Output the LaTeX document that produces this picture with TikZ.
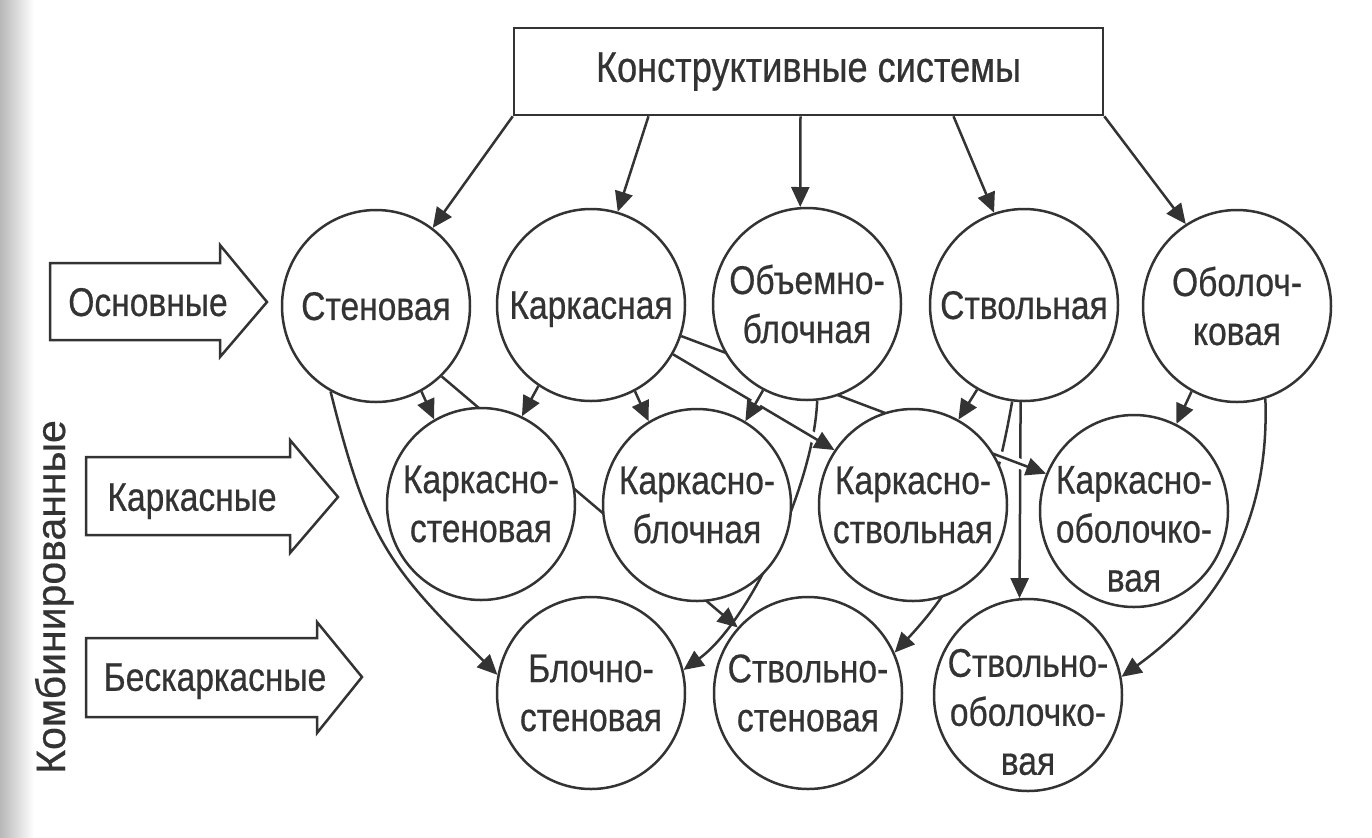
\documentclass[tikz,border=0pt]{standalone}
\usepackage{fontspec}
\setmainfont{Liberation Sans}[FakeStretch=0.84,FakeBold=0.5]
\newfontfamily\widefont{Liberation Sans}[FakeBold=0.5]
\usetikzlibrary{shapes.geometric,arrows.meta,calc,backgrounds}
\definecolor{ink}{HTML}{333333}
\begin{document}
\begin{tikzpicture}[x=0.5pt,y=-0.5pt,
  every node/.style={text=ink, font=\fontsize{20pt}{24.5pt}\selectfont},
  sys/.style={ellipse, draw=ink, line width=1.25pt, fill=white,
    minimum width=94pt, minimum height=96pt, inner sep=0pt},
  txt/.style={align=center, inner sep=0pt},
  con/.style={draw=ink, line width=1.25pt, -{Triangle[length=10pt,width=9pt]}},
  halo/.style={preaction={draw=white, line width=5pt, -}},
  blk/.style={draw=ink, line width=1.25pt, fill=white, line join=miter},
  lbl/.style={text depth=0pt, inner sep=0pt}]
\useasboundingbox (0,0) rectangle (1372,837);

% top box
\node[draw=ink, line width=1.25pt, fill=white, minimum width=294.5pt,
  minimum height=43.5pt, inner sep=0pt, font=\fontsize{21.5pt}{25pt}\selectfont] (top) at (808.5,71.5) {Конструктивные системы};

% basic systems
\node[sys] (sten) at (376,306) {};
\node[txt, text depth=0pt] (stent) at (sten.center) {Стеновая};
\node[sys] (kark) at (591,305) {};
\node[txt, text depth=0pt] (karkt) at (kark.center) {Каркасная};
\node[sys] (obem) at (807,304) {};
\node[txt] (obemt) at (obem.center) {Объемно-\\блочная};
\node[sys] (stv) at (1024,305) {};
\node[txt, text depth=0pt] (stvt) at (stv.center) {Ствольная};
\node[sys] (obol) at (1237,306) {};
\node[txt] (obolt) at (obol.center) {Оболоч-\\ковая};

% frame combined
\node[sys] (ks) at (481,504) {};
\node[txt] (kst0) at (ks.center) {Каркасно-\\стеновая};
\node[sys] (kb) at (697,505) {};
\node[txt] (kbt) at (kb.center) {Каркасно-\\блочная};
\node[sys] (kst) at (913,505) {};
\node[txt] (kstt) at (kst.center) {Каркасно-\\ствольная};
\node[sys] (kob) at (1134,511) {};
\node[txt] (kobt) at ([yshift=-9pt]kob.center) {Каркасно-\\оболочко-\\вая};

% frameless combined
\node[sys] (bs) at (591,693) {};
\node[txt] (bst) at (bs.center) {Блочно-\\стеновая};
\node[sys] (ss) at (808,693) {};
\node[txt] (sst) at (ss.center) {Ствольно-\\стеновая};
\node[sys] (so) at (1028,695) {};
\node[txt] (sot) at ([yshift=-8.5pt]so.center) {Ствольно-\\оболочко-\\вая};

% block arrows on the left
\draw[blk] (50,263) -- (220,263) -- (220,245) -- (267,302) -- (220,357) -- (220,340) -- (50,340) -- cycle;
\draw[blk] (86,457) -- (290,457) -- (290,440) -- (338,497) -- (290,553) -- (290,535) -- (86,535) -- cycle;
\draw[blk] (86,638) -- (317,638) -- (317,622) -- (362,677) -- (317,733) -- (317,717) -- (86,717) -- cycle;
\node[lbl] (osn) at (148,302) {Основные};
\node[lbl] (krk) at (192,497) {Каркасные};
\node[lbl] (bsk) at (215,677) {Бескаркасные};
\node[lbl, rotate=90, font=\widefont\fontsize{20.5pt}{24pt}\selectfont] (komb) at (50,597) {Комбинированные};

\begin{pgfonlayer}{background}
\shade[left color=black!28, right color=white] (0,0) rectangle (34,837);
% from the top box
\draw[con] (top.south west) -- (sten.54);
\draw[con] ($(top.south)+(-160,0)$) -- (kark.74);
\draw[con] ($(top.south)+(-8,0)$) -- (obem.94);
\draw[con] ($(top.south)+(145,0)$) -- (stv.108);
\draw[con] (top.south east) -- (obol.122);
% long connectors
\draw[con] (sten.-118) to[out=-76, in=135, looseness=1.2] (bs.169);
\draw[con] (obem.-84) to[out=-92, in=36, looseness=0.7] (bs.14);
\draw[con] (sten.-47) -- (ss.137);
\draw[con] (stv.-97) to[out=-100, in=47] (ss.25);
\draw[con] (stv.-92) -- (so.95);
\draw[con] (obol.-73) to[out=-88, in=36] (so.11);
% short connectors
\draw[con] (sten.-62) -- (ks.119);
\draw[con] (kark.-123) -- (ks.65);
\draw[con] (kark.-63) -- (kb.120);
\draw[con, halo] (kark.-31) -- (kst.145);
\draw[con, halo] (obem.-117) -- (kb.60);
\draw[con] (stv.-119) -- (kst.62);
\draw[con, halo] (kark.-19) -- (kob.157);
\draw[con] (obol.-118) -- (kob.64);
\end{pgfonlayer}
\end{tikzpicture}
\end{document}
